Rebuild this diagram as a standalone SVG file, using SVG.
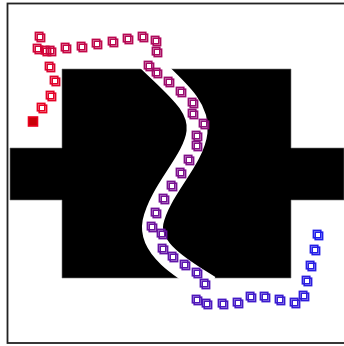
<svg xmlns="http://www.w3.org/2000/svg" width="344" height="346" viewBox="0 0 344 346">
<style>
.mk{fill:none;stroke-width:1.6}
</style>
<defs>
<g id="m"><rect x="-4.6" y="-4.6" width="7.4" height="7.4"/><rect x="-2.8" y="-2.8" width="7.4" height="7.4"/></g>
</defs>
<rect x="0" y="0" width="344" height="346" fill="#fff"/>
<g id="frame"><rect x="7.5" y="3.5" width="345" height="339.5" fill="none" stroke="#222" stroke-width="1.8"/></g>
<g id="obstacle">
<path d="M10,148H62V69H291V148H344V200H291V278H62V200H10Z" fill="#000" stroke="#777" stroke-width="0.6"/>
<path d="M143,56 C175,88 200,105 197,132 C194,160 160,190 153,222 C148,248 180,268 210,286" fill="none" stroke="#fff" stroke-width="21"/>
<rect x="120" y="279" width="120" height="20" fill="#fff"/>
</g>
<g id="trajectory" class="mk">
<rect x="28.5" y="117" width="9" height="9" fill="#c80008" stroke="rgb(235,0,30)"/>
<use href="#m" x="42" y="108" stroke="rgb(231,1,34)"/>
<use href="#m" x="51" y="96" stroke="rgb(227,1,38)"/>
<use href="#m" x="55" y="81" stroke="rgb(223,2,42)"/>
<use href="#m" x="50" y="67" stroke="rgb(219,2,46)"/>
<use href="#m" x="46" y="51" stroke="rgb(215,3,51)"/>
<use href="#m" x="38" y="49" stroke="rgb(210,4,55)"/>
<use href="#m" x="40" y="37" stroke="rgb(206,4,59)"/>
<use href="#m" x="51" y="51" stroke="rgb(202,5,63)"/>
<use href="#m" x="66" y="48" stroke="rgb(198,5,67)"/>
<use href="#m" x="82" y="47" stroke="rgb(194,6,71)"/>
<use href="#m" x="97" y="44" stroke="rgb(190,7,75)"/>
<use href="#m" x="113" y="42" stroke="rgb(186,7,79)"/>
<use href="#m" x="128" y="39" stroke="rgb(182,8,83)"/>
<use href="#m" x="143" y="37" stroke="rgb(178,8,87)"/>
<use href="#m" x="156" y="41" stroke="rgb(174,9,92)"/>
<use href="#m" x="157" y="52" stroke="rgb(169,10,96)"/>
<use href="#m" x="149" y="66" stroke="rgb(165,10,100)"/>
<use href="#m" x="157" y="73" stroke="rgb(161,11,104)"/>
<use href="#m" x="169" y="82" stroke="rgb(157,11,108)"/>
<use href="#m" x="181" y="92" stroke="rgb(153,12,112)"/>
<use href="#m" x="193" y="103" stroke="rgb(149,13,116)"/>
<use href="#m" x="193" y="114" stroke="rgb(145,13,120)"/>
<use href="#m" x="204" y="124" stroke="rgb(141,14,124)"/>
<use href="#m" x="197" y="136" stroke="rgb(137,14,128)"/>
<use href="#m" x="197" y="146" stroke="rgb(133,15,133)"/>
<use href="#m" x="189" y="160" stroke="rgb(128,16,137)"/>
<use href="#m" x="181" y="173" stroke="rgb(124,16,141)"/>
<use href="#m" x="172" y="186" stroke="rgb(120,17,145)"/>
<use href="#m" x="164" y="199" stroke="rgb(116,17,149)"/>
<use href="#m" x="156" y="213" stroke="rgb(112,18,153)"/>
<use href="#m" x="152" y="227" stroke="rgb(108,19,157)"/>
<use href="#m" x="162" y="234" stroke="rgb(104,19,161)"/>
<use href="#m" x="163" y="249" stroke="rgb(100,20,165)"/>
<use href="#m" x="173" y="257" stroke="rgb(96,20,169)"/>
<use href="#m" x="185" y="265" stroke="rgb(92,21,174)"/>
<use href="#m" x="197" y="273" stroke="rgb(87,22,178)"/>
<use href="#m" x="205" y="284" stroke="rgb(83,22,182)"/>
<use href="#m" x="197" y="300" stroke="rgb(79,23,186)"/>
<use href="#m" x="207" y="304" stroke="rgb(75,23,190)"/>
<use href="#m" x="223" y="304" stroke="rgb(71,24,194)"/>
<use href="#m" x="238" y="303" stroke="rgb(67,25,198)"/>
<use href="#m" x="251" y="297" stroke="rgb(63,25,202)"/>
<use href="#m" x="265" y="297" stroke="rgb(59,26,206)"/>
<use href="#m" x="280" y="300" stroke="rgb(55,26,210)"/>
<use href="#m" x="295" y="303" stroke="rgb(51,27,215)"/>
<use href="#m" x="304" y="296" stroke="rgb(46,28,219)"/>
<use href="#m" x="307" y="281" stroke="rgb(42,28,223)"/>
<use href="#m" x="311" y="266" stroke="rgb(38,29,227)"/>
<use href="#m" x="315" y="250" stroke="rgb(34,29,231)"/>
<use href="#m" x="318" y="235" stroke="rgb(30,30,235)"/>
</g>
</svg>
